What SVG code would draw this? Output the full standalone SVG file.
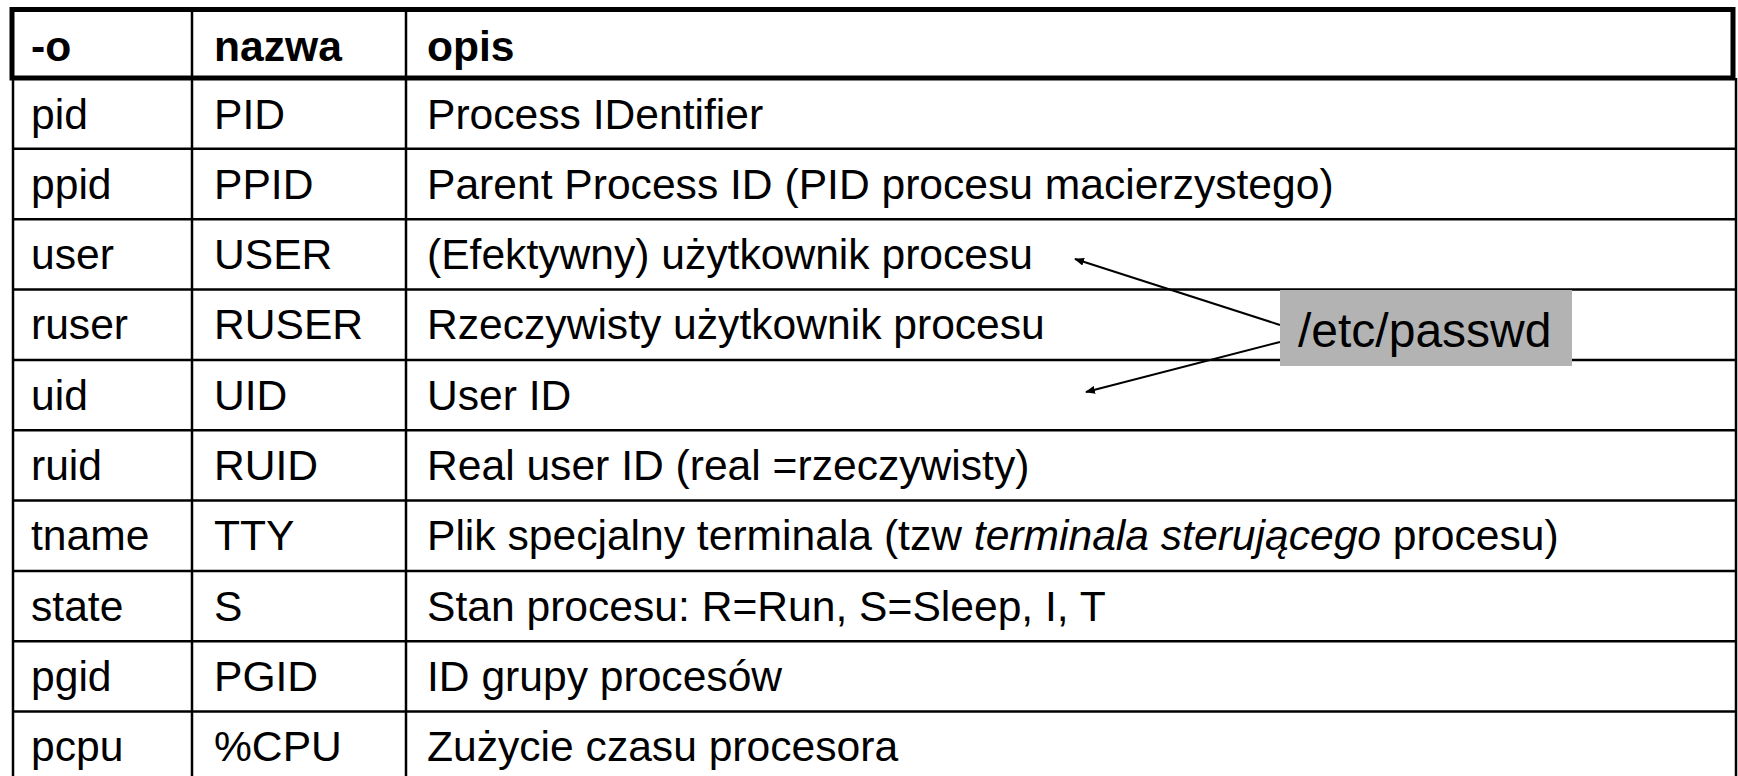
<svg xmlns="http://www.w3.org/2000/svg" width="1738" height="776" viewBox="0 0 1738 776">
<style>
text{font-family:"Liberation Sans",Arial,sans-serif;font-size:42.6px;fill:#000}
.h{font-weight:bold}
.grid{stroke:#000;stroke-width:2.5;fill:none}
.conn{stroke:#000;stroke-width:2;fill:none}
</style>
<defs>
<marker id="ah" markerWidth="10" markerHeight="8" refX="9" refY="4" orient="auto" markerUnits="userSpaceOnUse" viewBox="0 0 10 8">
<path d="M0,0 L10,4 L0,8 Z" fill="#000"/>
</marker>
</defs>
<rect width="1738" height="776" fill="#fff"/>
<g id="table">
<g class="grid">
<line x1="13" y1="78" x2="13" y2="780"/>
<line x1="1736" y1="78" x2="1736" y2="780"/>
<line x1="192" y1="9" x2="192" y2="780"/>
<line x1="406" y1="9" x2="406" y2="780"/>
<line x1="13" y1="148.8" x2="1736" y2="148.8"/>
<line x1="13" y1="219.2" x2="1736" y2="219.2"/>
<line x1="13" y1="289.6" x2="1736" y2="289.6"/>
<line x1="13" y1="360" x2="1736" y2="360"/>
<line x1="13" y1="430.3" x2="1736" y2="430.3"/>
<line x1="13" y1="500.6" x2="1736" y2="500.6"/>
<line x1="13" y1="571" x2="1736" y2="571"/>
<line x1="13" y1="641.3" x2="1736" y2="641.3"/>
<line x1="13" y1="711.6" x2="1736" y2="711.6"/>
</g>
<rect x="12" y="9.5" width="1721" height="68.5" fill="none" stroke="#000" stroke-width="5"/>
<text class="h" x="31" y="61">-o</text>
<text class="h" x="214" y="61">nazwa</text>
<text class="h" x="427" y="61">opis</text>
<g id="r1"><text x="31" y="128.5">pid</text><text x="214" y="128.5">PID</text><text x="427" y="128.5">Process IDentifier</text></g>
<g id="r2"><text x="31" y="198.8">ppid</text><text x="214" y="198.8">PPID</text><text x="427" y="198.8">Parent Process ID (PID procesu macierzystego)</text></g>
<g id="r3"><text x="31" y="269.1">user</text><text x="214" y="269.1">USER</text><text x="427" y="269.1">(Efektywny) użytkownik procesu</text></g>
<g id="r4"><text x="31" y="339.4">ruser</text><text x="214" y="339.4">RUSER</text><text x="427" y="339.4">Rzeczywisty użytkownik procesu</text></g>
<g id="r5"><text x="31" y="409.7">uid</text><text x="214" y="409.7">UID</text><text x="427" y="409.7">User ID</text></g>
<g id="r6"><text x="31" y="480">ruid</text><text x="214" y="480">RUID</text><text x="427" y="480">Real user ID (real =rzeczywisty)</text></g>
<g id="r7"><text x="31" y="550.3">tname</text><text x="214" y="550.3">TTY</text><text x="427" y="550.3">Plik specjalny terminala (tzw <tspan font-style="italic">terminala sterującego</tspan> procesu)</text></g>
<g id="r8"><text x="31" y="620.6">state</text><text x="214" y="620.6">S</text><text x="427" y="620.6">Stan procesu: R=Run, S=Sleep, I, T</text></g>
<g id="r9"><text x="31" y="690.9">pgid</text><text x="214" y="690.9">PGID</text><text x="427" y="690.9">ID grupy procesów</text></g>
<g id="r10"><text x="31" y="761.2">pcpu</text><text x="214" y="761.2">%CPU</text><text x="427" y="761.2">Zużycie czasu procesora</text></g>
</g>
<g id="connectors">
<line class="conn" x1="1280" y1="325" x2="1075" y2="259" marker-end="url(#ah)"/>
<line class="conn" x1="1280" y1="342" x2="1086" y2="392" marker-end="url(#ah)"/>
</g>
<g id="passwd">
<rect x="1280" y="290" width="292" height="76" fill="#b3b3b3"/>
<text x="1298" y="347" style="font-size:48px">/etc/passwd</text>
</g>
</svg>
